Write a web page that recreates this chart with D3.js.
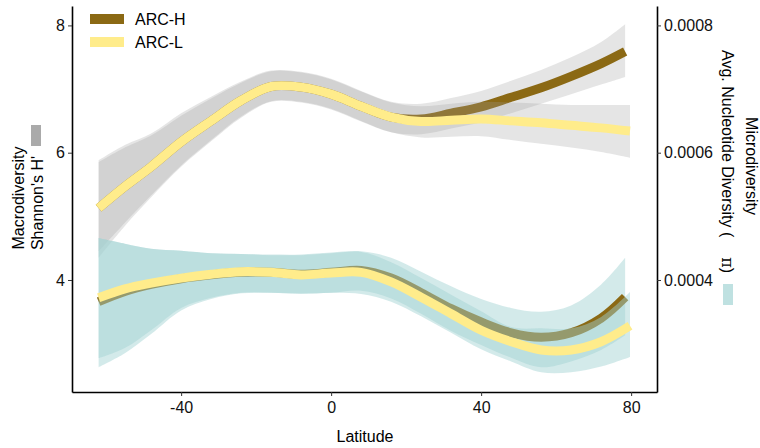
<!DOCTYPE html>
<html>
<head>
<meta charset="utf-8">
<script src="https://cdn.jsdelivr.net/npm/d3@7"></script>
<style>
  body { margin: 0; background: #fff; }
  text { font-family: "Liberation Sans", Arial, sans-serif; }
</style>
</head>
<body>
<svg></svg>
<script>
// latitude grid of the smoothed fits (H ends a bit earlier than L)
var latH = [-62, -55, -48, -40, -32, -24, -16, -8, 0, 8, 16, 24, 32, 40, 48, 56, 64, 72, 78.4];
var latL = [-62, -55, -48, -40, -32, -24, -16, -8, 0, 8, 16, 24, 32, 40, 48, 56, 64, 72, 79.7];

// macrodiversity (Shannon's H') - fit, lower, upper
var macroH    = [5.13, 5.47, 5.78, 6.17, 6.50, 6.82, 7.04, 7.03, 6.92, 6.73, 6.56, 6.53, 6.62, 6.72, 6.87, 7.02, 7.20, 7.40, 7.59];
var macroHlo  = [4.35, 4.85, 5.30, 5.78, 6.18, 6.55, 6.80, 6.79, 6.68, 6.49, 6.32, 6.29, 6.38, 6.48, 6.62, 6.77, 6.92, 7.07, 7.19];
var macroHhi  = [5.88, 6.12, 6.30, 6.62, 6.88, 7.12, 7.29, 7.27, 7.16, 6.97, 6.80, 6.77, 6.86, 6.97, 7.13, 7.30, 7.50, 7.74, 8.02];
var macroL    = [5.13, 5.47, 5.78, 6.17, 6.50, 6.82, 7.04, 7.03, 6.92, 6.73, 6.56, 6.49, 6.51, 6.53, 6.50, 6.47, 6.43, 6.39, 6.34];
var macroLlo  = [4.45, 4.90, 5.33, 5.80, 6.20, 6.57, 6.81, 6.80, 6.69, 6.50, 6.32, 6.24, 6.25, 6.26, 6.20, 6.14, 6.08, 6.01, 5.92];
var macroLhi  = [5.85, 6.08, 6.27, 6.58, 6.85, 7.10, 7.28, 7.26, 7.15, 6.96, 6.79, 6.73, 6.77, 6.80, 6.79, 6.77, 6.75, 6.75, 6.75];

// microdiversity (avg. nucleotide diversity, pi) - fit, lower, upper
var microH    = [3.66e-4, 3.82e-4, 3.93e-4, 4.02e-4, 4.08e-4, 4.12e-4, 4.12e-4, 4.09e-4, 4.12e-4, 4.15e-4, 4.03e-4, 3.80e-4, 3.55e-4, 3.34e-4, 3.17e-4, 3.10e-4, 3.17e-4, 3.40e-4, 3.73e-4];
var microHlo  = [2.63e-4, 2.85e-4, 3.15e-4, 3.52e-4, 3.70e-4, 3.79e-4, 3.80e-4, 3.79e-4, 3.80e-4, 3.83e-4, 3.71e-4, 3.47e-4, 3.20e-4, 2.98e-4, 2.78e-4, 2.63e-4, 2.72e-4, 2.90e-4, 3.13e-4];
var microHhi  = [4.66e-4, 4.57e-4, 4.49e-4, 4.46e-4, 4.42e-4, 4.41e-4, 4.40e-4, 4.40e-4, 4.43e-4, 4.45e-4, 4.35e-4, 4.13e-4, 3.90e-4, 3.70e-4, 3.56e-4, 3.50e-4, 3.60e-4, 3.93e-4, 4.35e-4];
var microL    = [3.72e-4, 3.86e-4, 3.95e-4, 4.03e-4, 4.09e-4, 4.13e-4, 4.12e-4, 4.08e-4, 4.11e-4, 4.12e-4, 3.97e-4, 3.73e-4, 3.47e-4, 3.21e-4, 3.03e-4, 2.90e-4, 2.90e-4, 3.03e-4, 3.28e-4];
var microLlo  = [2.77e-4, 2.93e-4, 3.21e-4, 3.56e-4, 3.72e-4, 3.80e-4, 3.80e-4, 3.78e-4, 3.80e-4, 3.78e-4, 3.66e-4, 3.43e-4, 3.17e-4, 2.91e-4, 2.72e-4, 2.55e-4, 2.55e-4, 2.64e-4, 2.79e-4];
var microLhi  = [4.66e-4, 4.57e-4, 4.49e-4, 4.46e-4, 4.42e-4, 4.41e-4, 4.39e-4, 4.39e-4, 4.42e-4, 4.44e-4, 4.28e-4, 4.03e-4, 3.77e-4, 3.51e-4, 3.26e-4, 3.24e-4, 3.24e-4, 3.42e-4, 3.81e-4];

// tick labels
var xTicks = [-40, 0, 40, 80];
var leftTicks = [4, 6, 8];
var rightTicks = [0.0004, 0.0006, 0.0008];

var svg = d3.select("svg")
  .attr("width", 760)
  .attr("height", 448);

// panel edges
var pLeft = 72, pRight = 657, pTop = 6, pBottom = 392;

var x = d3.scaleLinear().domain([-69.1, 86.9]).range([pLeft, pRight]);
var yL = d3.scaleLinear().domain([2.24, 8.305]).range([pBottom, pTop]);
var yR = d3.scaleLinear().domain([2.24e-4, 8.305e-4]).range([pBottom, pTop]);

function rows(lat, fit, lo, hi) {
  return lat.map(function(d, i) { return { lat: d, fit: fit[i], lo: lo[i], hi: hi[i] }; });
}

function band(y) {
  return d3.area()
    .x(function(d) { return x(d.lat); })
    .y0(function(d) { return y(d.lo); })
    .y1(function(d) { return y(d.hi); })
    .curve(d3.curveCatmullRom);
}
function fitLine(y) {
  return d3.line()
    .x(function(d) { return x(d.lat); })
    .y(function(d) { return y(d.fit); })
    .curve(d3.curveCatmullRom);
}

var colH = "#8B6914", colL = "#FFEC8B";

// one group = ribbon then line, like geom_smooth
function smooth(data, y, ribbon, ribbonOpacity, col) {
  svg.append("path")
    .attr("d", band(y)(data))
    .style("fill", ribbon)
    .style("opacity", ribbonOpacity);
  svg.append("path")
    .attr("d", fitLine(y)(data))
    .style("fill", "none")
    .style("stroke", col)
    .style("stroke-width", 9);
}

// macrodiversity, grey ribbons
smooth(rows(latH, macroH, macroHlo, macroHhi), yL, "#9f9f9f", 0.27, colH);
smooth(rows(latL, macroL, macroLlo, macroLhi), yL, "#9f9f9f", 0.27, colL);

// microdiversity, teal ribbons
smooth(rows(latH, microH, microHlo, microHhi), yR, "#a2d2d2", 0.47, colH);
smooth(rows(latL, microL, microLlo, microLhi), yR, "#a2d2d2", 0.47, colL);

// axes
var xAxis = svg.append("g")
  .attr("transform", "translate(0," + pBottom + ")")
  .call(d3.axisBottom(x).tickValues(xTicks).tickFormat(function(d) { return String(d); })
    .tickSize(4).tickSizeOuter(0).tickPadding(6));

var lAxis = svg.append("g")
  .attr("transform", "translate(" + pLeft + ",0)")
  .call(d3.axisLeft(yL).tickValues(leftTicks).tickFormat(function(d) { return String(d); })
    .tickSize(4).tickSizeOuter(0).tickPadding(3));

var rAxis = svg.append("g")
  .attr("transform", "translate(" + pRight + ",0)")
  .call(d3.axisRight(yR).tickValues(rightTicks).tickFormat(function(d) { return d.toFixed(4); })
    .tickSize(4).tickSizeOuter(0).tickPadding(3));

[xAxis, lAxis, rAxis].forEach(function(g) {
  g.select(".domain").style("stroke", "#000").style("stroke-width", 1.6);
  g.selectAll(".tick line").style("stroke", "#333").style("stroke-width", 1);
  g.selectAll(".tick text")
    .style("font-family", "Liberation Sans, Arial, sans-serif")
    .style("font-size", "16px")
    .style("fill", "#111");
});

// x title
svg.append("text")
  .attr("x", 365)
  .attr("y", 442)
  .attr("text-anchor", "middle")
  .style("font-size", "16px")
  .text("Latitude");

// left title + grey key
svg.append("text")
  .attr("transform", "translate(24,198) rotate(-90)")
  .attr("text-anchor", "middle")
  .style("font-size", "16px")
  .text("Macrodiversity");
svg.append("text")
  .attr("transform", "translate(43,203) rotate(-90)")
  .attr("text-anchor", "middle")
  .style("font-size", "16px")
  .text("Shannon's H'");
svg.append("rect")
  .attr("x", 31).attr("y", 125)
  .attr("width", 10).attr("height", 21)
  .style("fill", "#aaaaaa");

// right title + teal key
svg.append("text")
  .attr("transform", "translate(746,166) rotate(90)")
  .attr("text-anchor", "middle")
  .style("font-size", "16px")
  .text("Microdiversity");
var sub = svg.append("text")
  .attr("transform", "translate(722,50) rotate(90)")
  .attr("text-anchor", "start")
  .style("font-size", "16px");
sub.append("tspan").text("Avg. Nucleotide Diversity (");
sub.append("tspan").attr("dx", 20).style("font-family", "DejaVu Serif, serif").text("\u03c0");
sub.append("tspan").text(")");
svg.append("rect")
  .attr("x", 723).attr("y", 284)
  .attr("width", 10).attr("height", 21)
  .style("fill", "#bfe1e1");

// legend for ARC-H / ARC-L
var keys = [["ARC-H", colH], ["ARC-L", colL]];
keys.forEach(function(k, i) {
  svg.append("rect")
    .attr("x", 90).attr("y", 14 + i * 23)
    .attr("width", 34).attr("height", 10)
    .style("fill", k[1]);
  svg.append("text")
    .attr("x", 135).attr("y", 25 + i * 23)
    .style("font-size", "16px")
    .text(k[0]);
});
</script>
</body>
</html>
